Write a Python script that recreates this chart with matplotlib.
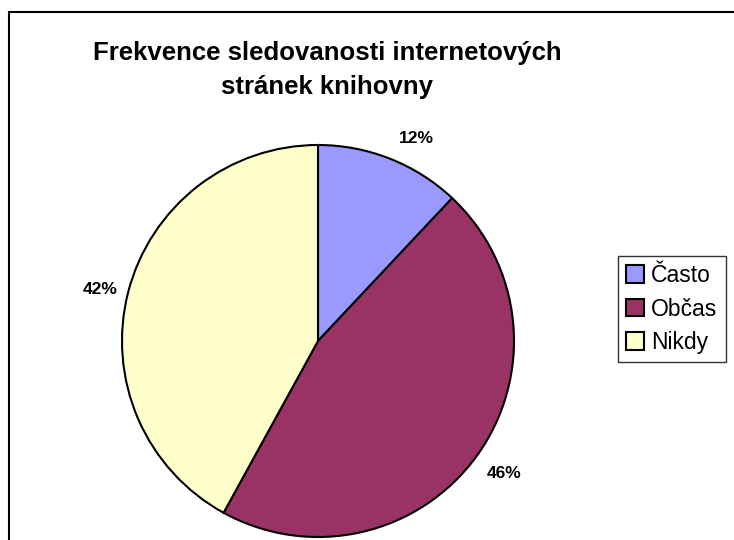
import numpy as np
import matplotlib.pyplot as plt
from matplotlib.patches import Rectangle

# data
labels = ['Často', 'Občas', 'Nikdy']
values = [12, 46, 42]
colors = ['#9999FF', '#993366', '#FFFFCC']
title = 'Frekvence sledovanosti internetových\nstránek knihovny'

plt.rcParams['font.family'] = ['Liberation Sans', 'DejaVu Sans']

W, H = 734, 540
fig = plt.figure(figsize=(W / 100, H / 100), dpi=100)

# outer frame (right and bottom cut off like in the original)
fig.add_artist(Rectangle((8.5 / W, -0.1), 1.2, (H - 12) / H + 0.1, transform=fig.transFigure,
                         fill=False, edgecolor='black', linewidth=1.5))

cx, cy, r = 318, 341, 196
ax = fig.add_axes([(cx - r) / W, (H - cy - r) / H, 2 * r / W, 2 * r / H])
wedges, texts, autotexts = ax.pie(values, colors=colors, startangle=90, counterclock=False,
                                  autopct='%1.0f%%', pctdistance=1.2, radius=1,
                                  wedgeprops=dict(edgecolor='black', linewidth=1.5),
                                  textprops=dict(fontsize=12.5, fontweight='bold'))
ax.set_xlim(-1, 1)
ax.set_ylim(-1, 1)
ax.set_aspect('equal')
ax.axis('off')

# nudge percentage labels like the Excel layout
offsets = [(1.15, -4.2), (1.165, 0.6), (1.14, 1.2)]
for w, t, (d, dang) in zip(wedges, autotexts, offsets):
    ang = np.deg2rad((w.theta1 + w.theta2) / 2 + dang)
    t.set_position((d * np.cos(ang), d * np.sin(ang)))

fig.text(327 / W, 1 - 70 / H, title, ha='center', va='center', fontsize=18.5,
         fontweight='bold', linespacing=1.55, multialignment='center')

leg = fig.legend(wedges, labels, loc='center left', bbox_to_anchor=(618 / W, 1 - 309 / H),
                 fontsize=16.5, frameon=True, fancybox=False, edgecolor='black',
                 handlelength=0.8, handleheight=0.8, handletextpad=0.3,
                 labelspacing=0.45, borderpad=0.35, borderaxespad=0)
leg.get_frame().set_linewidth(1.0)

fig.savefig('out.png', dpi=100)
